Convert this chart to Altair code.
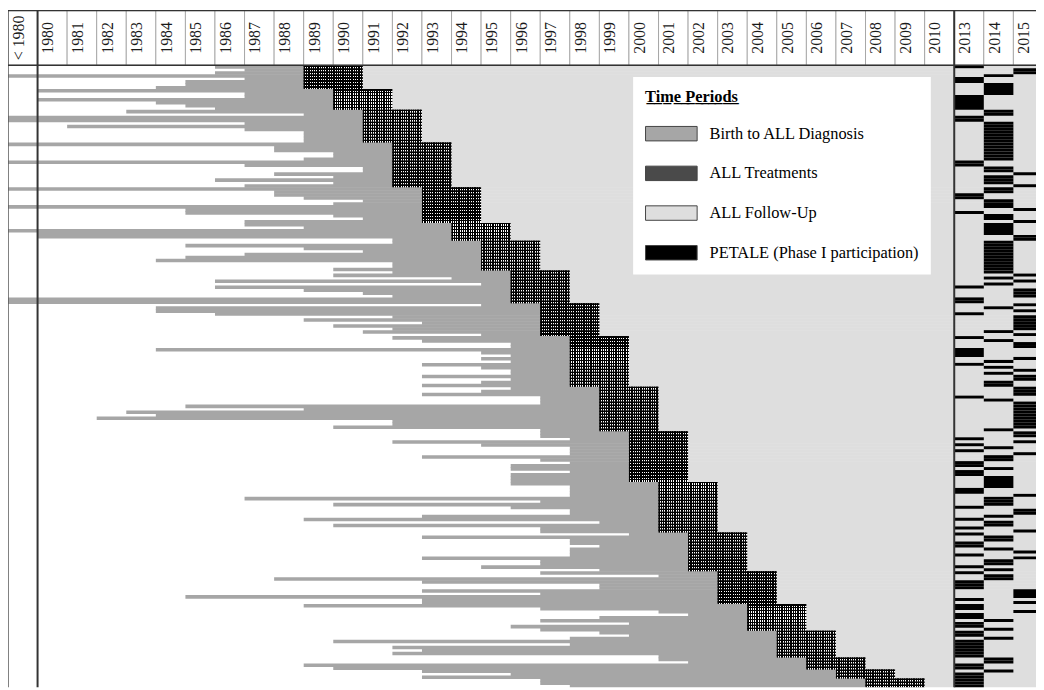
import altair as alt
import pandas as pd

# ---------------- data ----------------
column_labels = ["< 1980", "1980", "1981", "1982", "1983", "1984", "1985", "1986", "1987",
                 "1988", "1989", "1990", "1991", "1992", "1993", "1994", "1995", "1996",
                 "1997", "1998", "1999", "2000", "2001", "2002", "2003", "2004", "2005",
                 "2006", "2007", "2008", "2009", "2010", "2013", "2014", "2015"]
column_years = [1979, 1980, 1981, 1982, 1983, 1984, 1985, 1986, 1987, 1988, 1989, 1990,
                1991, 1992, 1993, 1994, 1995, 1996, 1997, 1998, 1999, 2000, 2001, 2002,
                2003, 2004, 2005, 2006, 2007, 2008, 2009, 2010, 2013, 2014, 2015]

periods = ["Birth to ALL Diagnosis", "ALL Treatments", "ALL Follow-Up",
           "PETALE (Phase I participation)"]
period_colors = ["#a6a6a6", "#4a4a4a", "#dedede", "#000000"]

# birth years (1979 = "< 1980") of patients, grouped by year of ALL diagnosis
diagnosis_years = [1989, 1990, 1991, 1992, 1993, 1994, 1995, 1996, 1997, 1998,
                   1999, 2000, 2001, 2002, 2003, 2004, 2005, 2006, 2007, 2008]
births_1989 = [1986, 1987, 1986, 1979, 1987, 1985, 1985, 1984]
births_1990 = [1980, 1987, 1987, 1980, 1984, 1985, 1986]
births_1991 = [1983, 1989, 1979, 1979, 1987, 1981, 1987, 1989, 1989, 1989, 1989]
births_1992 = [1979, 1988, 1988, 1990, 1990, 1989, 1979, 1987, 1991, 1991, 1988, 1990, 1986, 1990, 1987]
births_1993 = [1979, 1988, 1988, 1989, 1991, 1990, 1979, 1985, 1985, 1990, 1991, 1987]
births_1994 = [1987, 1989, 1979, 1980, 1980, 1992]
births_1995 = [1992, 1985, 1989, 1991, 1987, 1985, 1984, 1992, 1992, 1990]
births_1996 = [1992, 1990, 1994, 1986, 1995, 1986, 1989, 1991, 1992, 1979, 1979]
births_1997 = [1995, 1984, 1984, 1986, 1992, 1989, 1993, 1990, 1992, 1991, 1995]
births_1998 = [1992, 1993, 1996, 1996, 1984, 1995, 1996, 1995, 1996, 1993, 1995, 1996, 1996, 1993, 1996, 1995, 1993]
births_1999 = [1996, 1995, 1993, 1997, 1997, 1997, 1985, 1989, 1983, 1984, 1982, 1992, 1992, 1990, 1997]
births_2000 = [1997, 1997, 1998, 1992, 1995, 1998, 1998, 1998, 1993, 1997, 1998, 1996, 1996, 1998, 1996, 1996, 1996]
births_2001 = [1996, 1998, 1998, 1998, 1998, 1987, 1997, 1990, 1996, 1998, 1998, 1993, 1989, 1999, 1990, 1997, 1997]
births_2002 = [2000, 1993, 1998, 1998, 1999, 1998, 1998, 1998, 1993, 1997, 1997, 1995, 1999]
births_2003 = [1997, 2001, 1988, 1993, 1999, 1999, 1993, 1997, 1985, 1993, 1993]
births_2004 = [1989, 1997, 2001, 2002, 1999, 1997, 2000, 1996, 1997]
births_2005 = [1999, 2000, 1998, 1990, 1998, 1992, 1993, 1992, 2001]
births_2006 = [2001, 2002, 1989, 1990]
births_2007 = [1993, 1996, 1993]
births_2008 = [1997, 1997, 1998]

# year of PETALE participation for each patient (same row order)
petale_years = [
    2013, 2015, 2015, 2014, 2013, 2013, 2014, 2014, 2014, 2014,
    2013, 2013, 2013, 2013, 2013, 2014, 2014, 2013, 2013, 2014,
    2014, 2014, 2014, 2014, 2014, 2014, 2014, 2014, 2014, 2014,
    2014, 2014, 2013, 2013, 2014, 2014, 2015, 2014, 2014, 2014,
    2015, 2014, 2014, 2013, 2013, 2014, 2014, 2014, 2015, 2013,
    2014, 2014, 2015, 2014, 2014, 2014, 2014, 2015, 2015, 2014,
    2014, 2014, 2014, 2014, 2014, 2014, 2014, 2014, 2014, 2014,
    2015, 2014, 2015, 2014, 2013, 2015, 2015, 2015, 2013, 2013,
    2015, 2014, 2015, 2013, 2015, 2015, 2015, 2015, 2015, 2014,
    2015, 2013, 2014, 2015, 2015, 2013, 2013, 2013, 2015, 2014,
    2013, 2014, 2015, 2014, 2015, 2015, 2014, 2014, 2015, 2015,
    2015, 2013, 2014, 2015, 2015, 2015, 2015, 2015, 2015, 2015,
    2015, 2015, 2014, 2015, 2015, 2013, 2015, 2013, 2014, 2013,
    2015, 2014, 2014, 2013, 2013, 2014, 2013, 2013, 2014, 2014,
    2014, 2014, 2013, 2013, 2015, 2014, 2014, 2014, 2013, 2015,
    2015, 2014, 2013, 2014, 2014, 2013, 2015, 2013, 2014, 2014,
    2013, 2013, 2014, 2015, 2013, 2015, 2014, 2014, 2013, 2014,
    2013, 2014, 2014, 2013, 2013, 2013, 2015, 2015, 2015, 2013,
    2015, 2013, 2013, 2015, 2013, 2013, 2014, 2013, 2013, 2014,
    2013, 2013, 2014, 2013, 2013, 2013, 2013, 2013, 2013, 2014,
    2014, 2013, 2013, 2014, 2013, 2013, 2013, 2013, 2013,
]

births_by_group = [births_1989, births_1990, births_1991, births_1992, births_1993,
                   births_1994, births_1995, births_1996, births_1997, births_1998,
                   births_1999, births_2000, births_2001, births_2002, births_2003,
                   births_2004, births_2005, births_2006, births_2007, births_2008]

# ---------------- build tables ----------------
col = {y: i for i, y in enumerate(column_years)}
n_cols_visible = 1036 / 29.8
header_top = -55 / 3.0
OVERLAP = 0.2  # hides anti-aliasing seams between stacked rows

segs = []
r = 0
for D, births in zip(diagnosis_years, births_by_group):
    for b in births:
        p = petale_years[r] if r < len(petale_years) else 2013
        base = dict(row=r, row2=r + 1 + OVERLAP, rowt=r + 1)
        segs.append(dict(base, start=col[b], end=col[D], period=periods[0]))
        segs.append(dict(base, start=col[D], end=col[D] + 2, period=periods[1]))
        segs.append(dict(base, start=col[D] + 2, end=col[2010] + 1, period=periods[2]))
        segs.append(dict(base, start=col[2013], end=col[2015] + 1, period=periods[2]))
        segs.append(dict(base, start=col[p], end=col[p] + 1, period=periods[3]))
        r += 1
n_rows = r
seg_df = pd.DataFrame(segs)

hdr_df = pd.DataFrame({
    "label": column_labels,
    "c0": list(range(len(column_labels))),
    "c1": [i + 1 for i in range(len(column_labels))],
    "cx": [i + 0.535 for i in range(len(column_labels))],
    "y0": [header_top] * len(column_labels),
    "y1": [0.0] * len(column_labels),
    "ym": [header_top / 2] * len(column_labels),
})

xs = alt.Scale(domain=[0, n_cols_visible], nice=False, zero=False)
ys = alt.Scale(domain=[header_top, n_rows], nice=False, zero=False, reverse=True)

bars = alt.Chart(seg_df).mark_rect(clip=True, strokeWidth=0).encode(
    x=alt.X("start:Q", scale=xs, axis=None),
    x2="end:Q",
    y=alt.Y("row:Q", scale=ys, axis=None),
    y2="row2:Q",
    color=alt.Color(
        "period:N",
        scale=alt.Scale(domain=periods, range=period_colors),
        legend=alt.Legend(
            title="T\u0332i\u0332m\u0332e\u0332 \u0332P\u0332e\u0332r\u0332i\u0332o\u0332d\u0332s\u0332",
            orient="none", legendX=630, legendY=67,
            fillColor="white", padding=12,
            symbolType="M-2,-0.56H2V0.56H-2Z", symbolSize=676,
            symbolOffset=13, labelOffset=25,
            symbolStrokeColor="#444", symbolStrokeWidth=1, symbolOpacity=1,
            labelFont="Liberation Serif", labelFontSize=16.5, labelColor="black",
            labelLimit=400,
            titleFont="Liberation Serif", titleFontSize=16.5, titleFontWeight="bold",
            titleColor="black", titlePadding=15, rowPadding=17,
        ),
    ),
)

# fine cross-hatch texture on the treatment blocks (vertical + horizontal lines)
N_STRIPES = 26
v_stops = []
for k in range(N_STRIPES):
    v_stops += [alt.GradientStop(color="#000000", offset=k / N_STRIPES),
                alt.GradientStop(color="#000000", offset=(k + 0.56) / N_STRIPES),
                alt.GradientStop(color="#ffffff", offset=(k + 0.56) / N_STRIPES),
                alt.GradientStop(color="#ffffff", offset=(k + 1) / N_STRIPES)]
v_grad = alt.LinearGradient(gradient="linear", stops=v_stops, x1=0, x2=1, y1=0, y2=0)
h_grad = alt.LinearGradient(
    gradient="linear",
    stops=[alt.GradientStop(color="rgba(0,0,0,1)", offset=0),
           alt.GradientStop(color="rgba(0,0,0,1)", offset=0.5),
           alt.GradientStop(color="rgba(0,0,0,0)", offset=0.5),
           alt.GradientStop(color="rgba(0,0,0,0)", offset=1)],
    x1=0, x2=0, y1=0, y2=1)

treat_base = alt.Chart(seg_df).transform_filter(alt.datum.period == periods[1])
hatch_v = treat_base.mark_rect(clip=True, fill=v_grad, strokeWidth=0).encode(
    x=alt.X("start:Q", scale=xs, axis=None), x2="end:Q",
    y=alt.Y("row:Q", scale=ys, axis=None), y2="rowt:Q")
hatch_h = treat_base.mark_rect(clip=True, fill=h_grad, strokeWidth=0).encode(
    x=alt.X("start:Q", scale=xs, axis=None), x2="end:Q",
    y=alt.Y("row:Q", scale=ys, axis=None), y2="rowt:Q")

hdr_cells = alt.Chart(hdr_df).mark_rect(fill="white", stroke="#9a9a9a", strokeWidth=0.8, clip=True).encode(
    x=alt.X("c0:Q", scale=xs, axis=None), x2="c1:Q",
    y=alt.Y("y0:Q", scale=ys, axis=None), y2="y1:Q",
)
hdr_text = alt.Chart(hdr_df).mark_text(
    angle=270, align="center", baseline="alphabetic",
    font="Liberation Serif", fontSize=16, color="#1a1a1a", clip=True,
).encode(
    x=alt.X("cx:Q", scale=xs, axis=None),
    y=alt.Y("ym:Q", scale=ys, axis=None),
    text="label:N",
)

thick_df = pd.DataFrame({"x": [col[1980], col[2013]]})
thin_df = pd.DataFrame({"x": [0]})
hline_df = pd.DataFrame({"y": [header_top, 0.0], "w": [1.2, 1.6]})

thick = alt.Chart(thick_df).mark_rule(color="#333333", strokeWidth=2).encode(
    x=alt.X("x:Q", scale=xs, axis=None))
thin = alt.Chart(thin_df).mark_rule(color="#555555", strokeWidth=1.5).encode(
    x=alt.X("x:Q", scale=xs, axis=None))
hlines = alt.Chart(hline_df).mark_rule(color="#333333").encode(
    y=alt.Y("y:Q", scale=ys, axis=None), strokeWidth=alt.StrokeWidth("w:Q", scale=None))

chart = alt.layer(bars, hatch_v, hatch_h, hdr_cells, hdr_text, thick, thin, hlines).properties(
    width=1036, height=682, padding=0,
    autosize=alt.AutoSizeParams(type="none"),
    background="white",
).configure_view(strokeWidth=0)

chart.save("out.html", embed_options={"renderer": "svg", "actions": False})
